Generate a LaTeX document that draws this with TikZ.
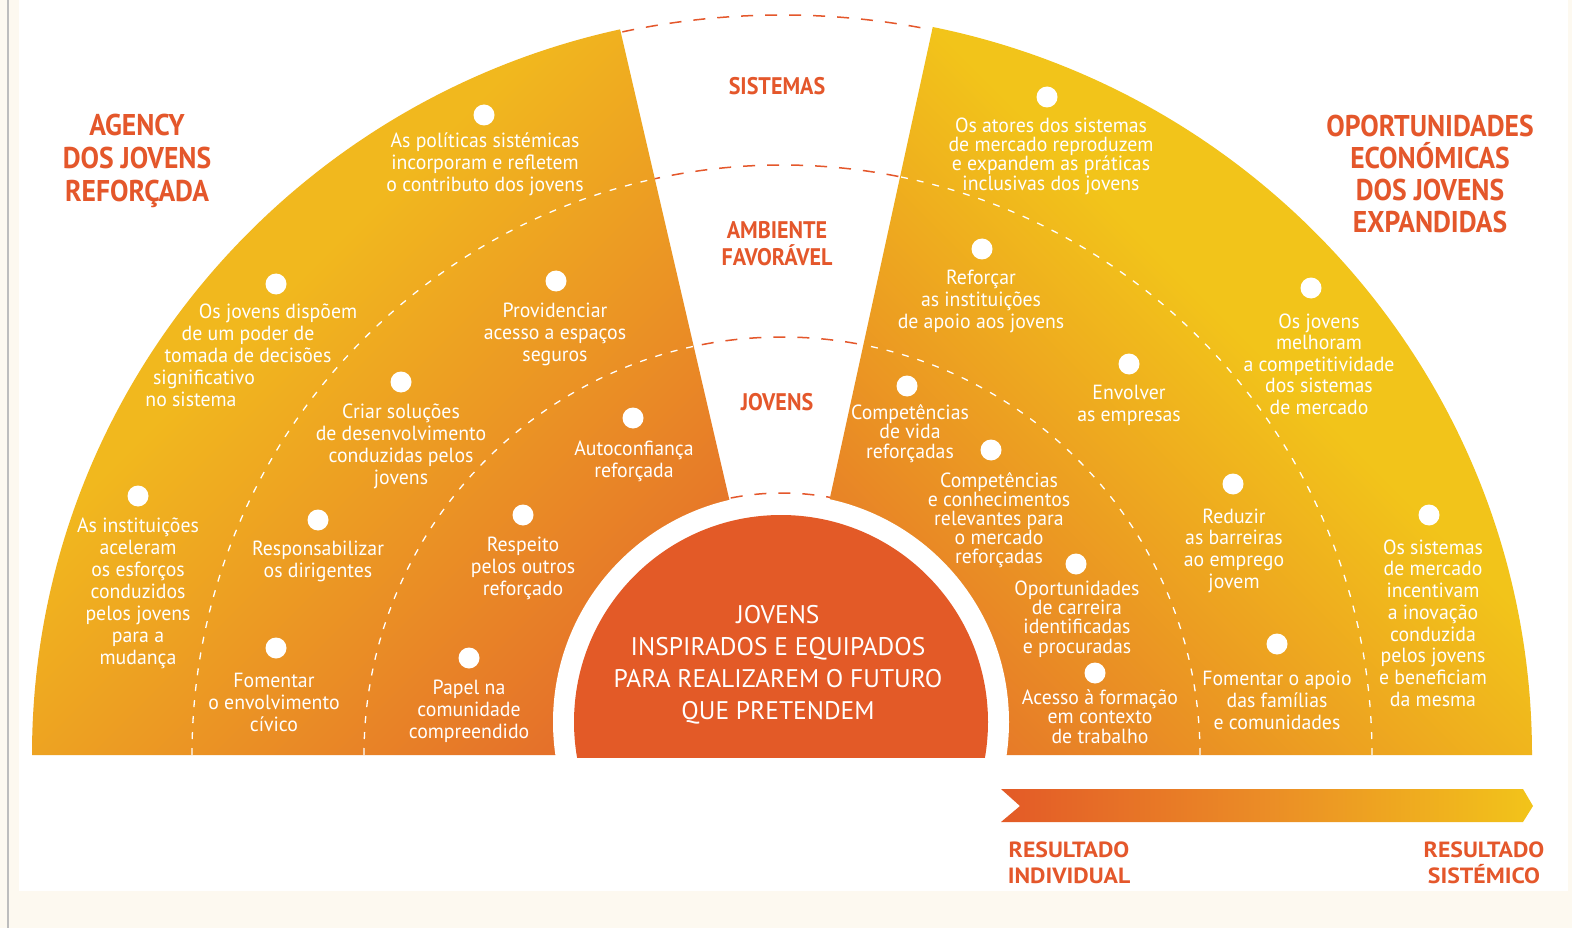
\documentclass[tikz,border=0pt]{standalone}
\usepackage{fontspec}
\setmainfont{PT Sans}
\newfontfamily\bodyfont{PT Sans}[FakeStretch=0.965]
\newfontfamily\headfont{PT Sans}[FakeStretch=0.92]
\newfontfamily\resfont{PT Sans}[FakeStretch=1.08]
\usetikzlibrary{calc}
\definecolor{cream}{HTML}{FDF9F0}
\definecolor{grayline}{HTML}{BDBDBD}
\definecolor{wor}{HTML}{E5712A}
\definecolor{wyl}{HTML}{F1B81E}
\definecolor{wyr}{HTML}{F2C41A}
\definecolor{hred}{HTML}{E4572B}
\definecolor{disk}{HTML}{E35A27}
\definecolor{arL}{HTML}{E35A27}
\definecolor{arM}{HTML}{EB8D26}
\definecolor{arR}{HTML}{F2C41A}
\pgfdeclarehorizontalshading{leftwedge}{100bp}{color(0bp)=(wor); color(43.6bp)=(wor); color(56.4bp)=(wyl); color(100bp)=(wyl)}
\pgfdeclarehorizontalshading{rightwedge}{100bp}{color(0bp)=(wor); color(43.4bp)=(wor); color(56.6bp)=(wyr); color(100bp)=(wyr)}
\begin{document}
\begin{tikzpicture}[x=1pt,y=-1pt,
  dot/.style={circle,fill=white,inner sep=0pt,minimum size=21pt},
  txt/.style={text=white,align=center,inner sep=0pt,yshift=-3pt,font=\bodyfont\fontsize{20.5}{22}\selectfont},
  tight/.style={text=white,align=center,inner sep=0pt,yshift=-3pt,font=\bodyfont\fontsize{20.5}{19.4}\selectfont},
  ctext/.style={text=white,align=center,inner sep=0pt,font=\fontsize{25.5}{32}\selectfont},
  head/.style={text=hred,align=center,inner sep=0pt,font=\headfont\bfseries\fontsize{30}{33}\selectfont},
  midhead/.style={text=hred,align=center,inner sep=0pt,font=\headfont\bfseries\fontsize{24}{27}\selectfont},
  reshead/.style={text=hred,align=center,inner sep=0pt,font=\resfont\bfseries\fontsize{22}{26}\selectfont},
  wdash/.style={white,line width=1.3pt,dash pattern=on 7pt off 9pt},
  odash/.style={hred,line width=1.5pt,dash pattern=on 12pt off 12pt}]
\useasboundingbox (0,0) rectangle (1572,928);
\fill[cream] (0,0) rectangle (1572,928);
\fill[white] (19,0) rectangle (1568,891);
\fill[grayline] (7,0) rectangle (9,928);
\coordinate (B) at (782,755);
\coordinate (C) at (781,722);
\coordinate (LT) at (620,29);
\coordinate (RT) at (933,26);
% left wedge
\begin{scope}
  \clip (32,755) arc[start angle=180,end angle=360,x radius=750,y radius=743] -- cycle;
  \clip (C) -- ($(C)!1.3!(LT)$) -- (-100,-200) -- (-100,755) -- (B) -- cycle;
  \shade[shading=leftwedge,shading angle=135] (-518.5,-545.5) rectangle (1481.5,1454.5);
  \draw[wdash] (192,755) arc[start angle=180,end angle=360,radius=590];
  \draw[wdash] (364,755) arc[start angle=180,end angle=360,radius=418];
\end{scope}
% right wedge
\begin{scope}
  \clip (32,755) arc[start angle=180,end angle=360,x radius=750,y radius=743] -- cycle;
  \clip (C) -- ($(C)!1.3!(RT)$) -- (1700,-200) -- (1700,755) -- (B) -- cycle;
  \shade[shading=rightwedge,shading angle=45] (55,-483) rectangle (2055,1517);
  \draw[wdash] (1372,755) arc[start angle=0,end angle=-180,radius=590];
  \draw[wdash] (1200,755) arc[start angle=0,end angle=-180,radius=418];
\end{scope}
% inner white ring and disk
\begin{scope}
  \clip (0,0) rectangle (1572,757);
  \fill[white] (C) circle[radius=228];
  \fill[disk] (C) circle[radius=207];
\end{scope}
% orange dashed arcs in the middle gap
\begin{scope}
  \clip (C) -- ($(C)!1.3!(LT)$) -- ($(C)!1.3!(RT)$) -- cycle;
  \draw[odash] (34,755) arc[start angle=180,end angle=360,x radius=748,y radius=740];
  \draw[odash] (192,755) arc[start angle=180,end angle=360,radius=590];
  \draw[odash] (364,755) arc[start angle=180,end angle=360,radius=418];
  \draw[odash] (520,755) arc[start angle=180,end angle=360,radius=262];
\end{scope}
% headings
\node[head] (h1) at (137,161) {AGENCY\\DOS JOVENS\\REFORÇADA};
\node[head,font=\headfont\bfseries\fontsize{30}{32}\selectfont] (h2) at (1430,174) {OPORTUNIDADES\\ECONÓMICAS\\DOS JOVENS\\EXPANDIDAS};
\node[midhead] (h3) at (777,86) {SISTEMAS};
\node[midhead] (h4) at (777,244) {AMBIENTE\\FAVORÁVEL};
\node[midhead] (h5) at (777,402) {JOVENS};
\node[reshead] (r1) at (1069,862.5) {RESULTADO\\INDIVIDUAL};
\node[reshead] (r2) at (1484,862.5) {RESULTADO\\SISTÉMICO};
% centre text
\node[ctext] (ct) at (778,665) {JOVENS\\INSPIRADOS E EQUIPADOS\\PARA REALIZAREM O FUTURO\\QUE PRETENDEM};
% left wedge items
\node[dot] (d1) at (484,115) {};
\node[txt] (t1) at (485,161) {As políticas sistémicas\\incorporam e refletem\\o contributo dos jovens};
\node[dot] (d2) at (276,284) {};
\node[txt,anchor=base] (t2a) at (278,315) {Os jovens dispõem};
\node[txt,anchor=base] (t2b) at (248,337) {de um poder de};
\node[txt,anchor=base] (t2c) at (248,359) {tomada de decisões};
\node[txt,anchor=base] (t2d) at (204,381) {significativo};
\node[txt,anchor=base] (t2e) at (191,403) {no sistema};
\node[dot] (d3) at (556,281) {};
\node[txt] (t3) at (555,331.5) {Providenciar\\acesso a espaços\\seguros};
\node[dot] (d4) at (401,382) {};
\node[txt] (t4) at (401,443.5) {Criar soluções\\de desenvolvimento\\conduzidas pelos\\jovens};
\node[dot] (d5) at (633,418) {};
\node[txt] (t5) at (634,458.5) {Autoconfiança\\reforçada};
\node[dot] (d6) at (138,496) {};
\node[txt] (t6) at (138,590.5) {As instituições\\aceleram\\os esforços\\conduzidos\\pelos jovens\\para a\\mudança};
\node[dot] (d7) at (318,520) {};
\node[txt] (t7) at (318,558.5) {Responsabilizar\\os dirigentes};
\node[dot] (d8) at (523,515) {};
\node[txt] (t8) at (523,565) {Respeito\\pelos outros\\reforçado};
\node[dot] (d9) at (276,648) {};
\node[txt] (t9) at (274,699) {Fomentar\\o envolvimento\\cívico};
\node[dot] (d10) at (469,658) {};
\node[txt] (t10) at (469,708) {Papel na\\comunidade\\compreendido};
% right wedge items
\node[dot] (d11) at (1047,97) {};
\node[tight] (t11) at (1051,153) {Os atores dos sistemas\\de mercado reproduzem\\e expandem as práticas\\inclusivas dos jovens};
\node[dot] (d12) at (982,249) {};
\node[txt] (t12) at (981,298) {Reforçar\\as instituições\\de apoio aos jovens};
\node[dot] (d13) at (1311,288) {};
\node[txt,font=\bodyfont\fontsize{20.5}{21.5}\selectfont] (t13) at (1319,361) {Os jovens\\melhoram\\a competitividade\\dos sistemas\\de mercado};
\node[dot] (d14) at (1129,364) {};
\node[txt] (t14) at (1129,402.5) {Envolver\\as empresas};
\node[dot] (d15) at (907,386) {};
\node[tight] (t15) at (910,430.5) {Competências\\de vida\\reforçadas};
\node[dot] (d16) at (991,450) {};
\node[tight,font=\bodyfont\fontsize{20.5}{19}\selectfont] (t16) at (999,517) {Competências\\e conhecimentos\\relevantes para\\o mercado\\reforçadas};
\node[dot] (d17) at (1076,564) {};
\node[tight] (t17) at (1077,616) {Oportunidades\\de carreira\\identificadas\\e procuradas};
\node[dot] (d18) at (1233,484) {};
\node[txt,font=\bodyfont\fontsize{20.5}{21.7}\selectfont] (t18) at (1234,547.5) {Reduzir\\as barreiras\\ao emprego\\jovem};
\node[dot] (d19) at (1429,515) {};
\node[txt,font=\bodyfont\fontsize{20.5}{21.7}\selectfont] (t19) at (1433,620) {Os sistemas\\de mercado\\incentivam\\a inovação\\conduzida\\pelos jovens\\e beneficiam\\da mesma};
\node[dot] (d20) at (1277,644) {};
\node[txt] (t20) at (1277,697) {Fomentar o apoio\\das famílias\\e comunidades};
\node[dot] (d21) at (1095,673) {};
\node[tight] (t21) at (1100,713.5) {Acesso à formação\\em contexto\\de trabalho};
% arrow
\shade[left color=arL,right color=arR,middle color=arM] (1001,789) -- (1523,789) -- (1533,806) -- (1523,822) -- (1001,822) -- (1020,806) -- cycle;
\end{tikzpicture}
\end{document}
